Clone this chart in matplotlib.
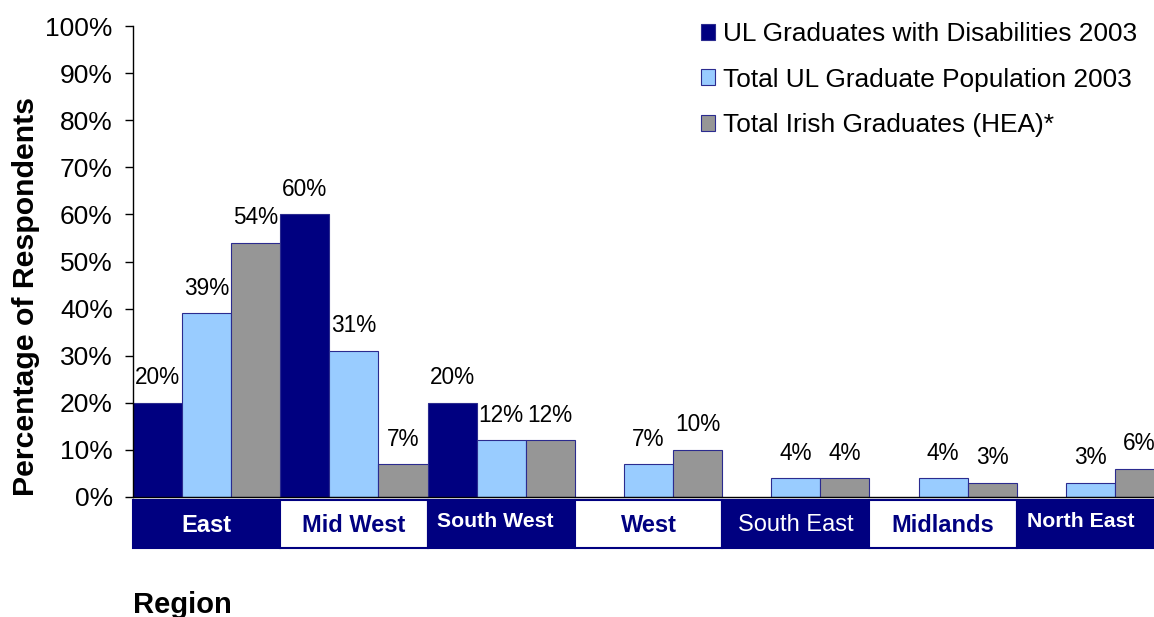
import matplotlib
matplotlib.use("Agg")
import matplotlib.pyplot as plt
import numpy as np
from matplotlib.patches import Rectangle

plt.rcParams['font.family'] = ['Liberation Sans', 'DejaVu Sans']

regions = ["East", "Mid West", "South West", "West", "South East", "Midlands", "North East"]
series_names = ["UL Graduates with Disabilities 2003",
                "Total UL Graduate Population 2003",
                "Total Irish Graduates (HEA)*"]
disabled_2003 = [20, 60, 20, 0, 0, 0, 0]
ul_total_2003 = [39, 31, 12, 7, 4, 4, 3]
irish_hea = [54, 7, 12, 10, 4, 3, 6]
y_ticks = list(range(0, 101, 10))

NAVY = "#000080"
LIGHT = "#99CCFF"
GREY = "#969696"
EDGE = "#2B2B8F"

W, H = 1154, 617
fig = plt.figure(figsize=(W / 100, H / 100), dpi=100)
# axes runs a little past the right edge, as in the original
ax = fig.add_axes([133 / W, 1 - 497 / H, 1031 / W, 471 / H])

x = np.arange(len(regions))
bw = 1 / 3
series = [disabled_2003, ul_total_2003, irish_hea]
colors = [NAVY, LIGHT, GREY]

for k, (vals, col, name) in enumerate(zip(series, colors, series_names)):
    vals = np.array(vals, dtype=float)
    keep = vals > 0
    xs = x[keep] + (k - 1) * bw
    ax.bar(xs, vals[keep], bw, color=col, edgecolor=EDGE, linewidth=0.8, label=name)
    for xi, v in zip(xs, vals[keep]):
        ax.annotate(f"{int(v)}%", (xi, v), xytext=(0, 18), textcoords="offset points",
                    ha="center", va="center", fontsize=16.3, color="black")

ax.set_xlim(-0.5, len(regions) - 0.5)
ax.set_ylim(0, 100)
ax.set_yticks(y_ticks)
ax.set_yticklabels([f"{t}%" for t in y_ticks])
ax.set_xticks([])
ax.tick_params(axis="y", direction="out", length=6, width=1, pad=8.5, labelsize=19)
for s in ["top", "right"]:
    ax.spines[s].set_visible(False)
ax.spines["left"].set_linewidth(1)
ax.spines["bottom"].set_linewidth(1)

# region band under the axis
band_bold = [True, True, True, True, False, True, True]
band_size = [17, 17, 15.3, 17, 17, 17, 15.3]
band_dx = [0, 0, -0.04, 0, 0, 0, -0.065]
band_y = [-0.060, -0.060, -0.051, -0.060, -0.060, -0.060, -0.051]
trans = ax.get_xaxis_transform()
for i, name in enumerate(regions):
    dark = i % 2 == 0
    ax.add_patch(Rectangle((i - 0.5, -0.108), 1, 0.101, transform=trans, clip_on=False,
                           facecolor=NAVY if dark else "white", edgecolor=NAVY, linewidth=1.5))
    ax.text(i + band_dx[i], band_y[i], name, transform=trans, ha="center", va="center",
            fontsize=band_size[i], fontweight="bold" if band_bold[i] else "normal",
            color="white" if dark else NAVY, clip_on=False)

ax.legend(loc="upper left", bbox_to_anchor=(701 / W, 1 - 22 / H), bbox_transform=fig.transFigure,
          frameon=False, fontsize=18.9, handlelength=0.55, handleheight=0.55,
          handletextpad=0.3, labelspacing=0.82, borderpad=0, borderaxespad=0)

fig.text(26 / W, 1 - 297 / H, "Percentage of Respondents", rotation=90, ha="center", va="center",
         fontsize=21.8, fontweight="bold")
fig.text(133 / W, 1 - 605 / H, "Region", ha="left", va="center", fontsize=21, fontweight="bold")

fig.savefig("out.png", dpi=100)
